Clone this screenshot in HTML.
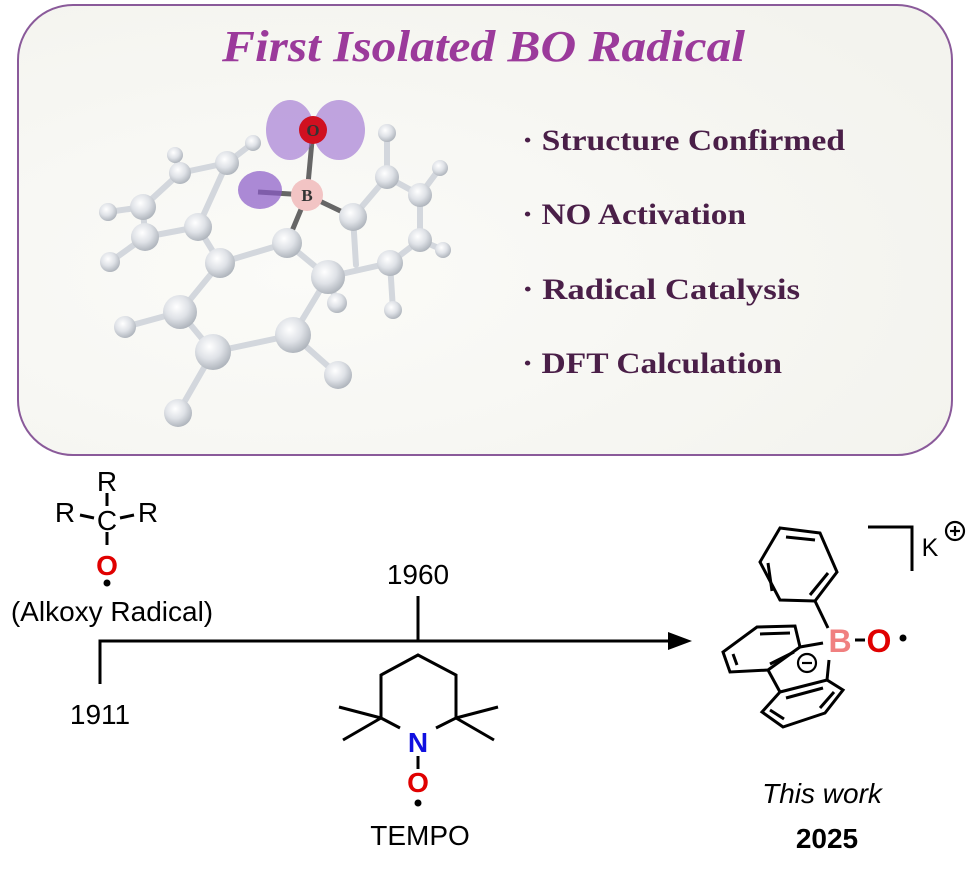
<!DOCTYPE html>
<html><head><meta charset="utf-8"><style>
html,body{margin:0;padding:0;background:#fff;}
svg{display:block;}
</style></head><body>
<svg width="971" height="871" viewBox="0 0 971 871" xmlns="http://www.w3.org/2000/svg">
<defs>
<radialGradient id="atom" cx="0.4" cy="0.35" r="0.7">
<stop offset="0" stop-color="#ffffff"/><stop offset="0.5" stop-color="#dfe2e7"/><stop offset="1" stop-color="#a9afb7"/>
</radialGradient>
<radialGradient id="bg" cx="0.3" cy="0.6" r="0.8">
<stop offset="0" stop-color="#fbfbf8"/><stop offset="1" stop-color="#f3f3ee"/>
</radialGradient>
</defs>
<rect x="18" y="5" width="934" height="450" rx="55" fill="url(#bg)" stroke="#8a5a9a" stroke-width="2"/>
<text x="222" y="61" textLength="523" lengthAdjust="spacingAndGlyphs" font-family="Liberation Serif, serif" font-style="italic" font-weight="bold" font-size="44" fill="#9b3a9b">First Isolated BO Radical</text>
<g font-family="Liberation Serif, serif" font-weight="bold" font-size="30" fill="#4a1f48" lengthAdjust="spacingAndGlyphs">
<text x="522" y="150" textLength="323" lengthAdjust="spacingAndGlyphs">· Structure Confirmed</text>
<text x="522" y="224" textLength="224" lengthAdjust="spacingAndGlyphs">· NO Activation</text>
<text x="522" y="299" textLength="278" lengthAdjust="spacingAndGlyphs">· Radical Catalysis</text>
<text x="522" y="373" textLength="260" lengthAdjust="spacingAndGlyphs">· DFT Calculation</text>
</g>
<!-- molecule bonds -->
<g stroke="#d3d7dd" stroke-width="6" stroke-linecap="round">
<line x1="227" y1="163" x2="180" y2="173"/><line x1="180" y1="173" x2="143" y2="207"/>
<line x1="143" y1="207" x2="145" y2="237"/><line x1="145" y1="237" x2="198" y2="227"/>
<line x1="198" y1="227" x2="227" y2="163"/><line x1="198" y1="227" x2="220" y2="263"/>
<line x1="220" y1="263" x2="287" y2="243"/><line x1="220" y1="263" x2="180" y2="312"/>
<line x1="180" y1="312" x2="213" y2="352"/><line x1="213" y1="352" x2="293" y2="335"/>
<line x1="293" y1="335" x2="328" y2="277"/><line x1="328" y1="277" x2="287" y2="243"/>
<line x1="328" y1="277" x2="390" y2="263"/><line x1="390" y1="263" x2="420" y2="240"/>
<line x1="420" y1="240" x2="420" y2="195"/><line x1="420" y1="195" x2="387" y2="177"/>
<line x1="387" y1="177" x2="353" y2="217"/><line x1="353" y1="217" x2="356" y2="265"/>
<line x1="227" y1="163" x2="253" y2="143"/><line x1="180" y1="173" x2="175" y2="155"/>
<line x1="143" y1="207" x2="108" y2="212"/><line x1="145" y1="237" x2="110" y2="262"/>
<line x1="180" y1="312" x2="125" y2="327"/><line x1="213" y1="352" x2="178" y2="413"/>
<line x1="293" y1="335" x2="338" y2="375"/><line x1="390" y1="263" x2="393" y2="310"/>
<line x1="328" y1="277" x2="337" y2="303"/><line x1="420" y1="240" x2="443" y2="250"/>
<line x1="420" y1="195" x2="440" y2="168"/><line x1="387" y1="177" x2="387" y2="133"/>
</g>
<g stroke="#666" stroke-width="5"><line x1="307" y1="195" x2="313" y2="130"/><line x1="307" y1="195" x2="287" y2="243"/><line x1="307" y1="195" x2="353" y2="217"/><line x1="307" y1="195" x2="258" y2="192"/></g>
<g fill="url(#atom)">
<circle cx="227" cy="163" r="12"/><circle cx="180" cy="173" r="11"/><circle cx="143" cy="207" r="13"/>
<circle cx="145" cy="237" r="14"/><circle cx="198" cy="227" r="14"/><circle cx="220" cy="263" r="15"/>
<circle cx="287" cy="243" r="15"/><circle cx="353" cy="217" r="14"/><circle cx="387" cy="177" r="12"/>
<circle cx="420" cy="195" r="12"/><circle cx="420" cy="240" r="12"/><circle cx="390" cy="263" r="13"/>
<circle cx="328" cy="277" r="17"/><circle cx="180" cy="312" r="17"/><circle cx="213" cy="352" r="18"/>
<circle cx="293" cy="335" r="18"/>
<circle cx="253" cy="143" r="8"/><circle cx="175" cy="155" r="8"/><circle cx="108" cy="212" r="9"/>
<circle cx="110" cy="262" r="10"/><circle cx="125" cy="327" r="11"/><circle cx="178" cy="413" r="14"/>
<circle cx="338" cy="375" r="14"/><circle cx="393" cy="310" r="9"/><circle cx="337" cy="303" r="10"/>
<circle cx="443" cy="250" r="8"/><circle cx="440" cy="168" r="8"/><circle cx="387" cy="133" r="9"/>
</g>
<ellipse cx="290" cy="130" rx="24" ry="30" fill="#9a6ad0" fill-opacity="0.6"/>
<ellipse cx="339" cy="130" rx="26" ry="30" fill="#9a6ad0" fill-opacity="0.6"/>
<ellipse cx="260" cy="190" rx="22" ry="19" fill="#8a5ac8" fill-opacity="0.7"/>
<circle cx="313" cy="130" r="14" fill="#d01020"/>
<circle cx="307" cy="195" r="16" fill="#f2c4c4"/>
<text x="313" y="136" text-anchor="middle" font-family="Liberation Serif, serif" font-weight="bold" font-size="17" fill="#333">O</text>
<text x="307" y="201" text-anchor="middle" font-family="Liberation Serif, serif" font-weight="bold" font-size="17" fill="#333">B</text>

<!-- bottom scheme -->
<g font-family="Liberation Sans, sans-serif" font-size="28" fill="#000">
<text x="107" y="491" text-anchor="middle">R</text>
<text x="65" y="522" text-anchor="middle">R</text>
<text x="107" y="530" text-anchor="middle">C</text>
<text x="148" y="522" text-anchor="middle">R</text>
<text x="107" y="575" text-anchor="middle" fill="#e00000" font-weight="bold">O</text>
<text x="112" y="621" text-anchor="middle">(Alkoxy Radical)</text>
<text x="100" y="724" text-anchor="middle">1911</text>
<text x="418" y="584" text-anchor="middle">1960</text>
<text x="418" y="752" text-anchor="middle" fill="#1010e0" font-weight="bold">N</text>
<text x="418" y="792" text-anchor="middle" fill="#e00000" font-weight="bold">O</text>
<text x="420" y="845" text-anchor="middle">TEMPO</text>
<text x="822" y="803" text-anchor="middle" font-style="italic">This work</text>
<text x="827" y="848" text-anchor="middle" font-weight="bold">2025</text>
<text x="930" y="556" text-anchor="middle" font-size="25">K</text>
<text x="840" y="652" text-anchor="middle" fill="#f08080" font-size="32" font-weight="bold">B</text>
<text x="879" y="652" text-anchor="middle" fill="#e00000" font-size="32" font-weight="bold">O</text>
</g>
<g stroke="#000" stroke-width="3" fill="none" stroke-linecap="butt">
<line x1="107" y1="493" x2="107" y2="506"/><line x1="80" y1="515" x2="94" y2="518"/><line x1="120" y1="518" x2="134" y2="515"/>
<line x1="107" y1="532" x2="107" y2="545"/>
<polyline points="100,684 100,641 676,641"/>
<line x1="418" y1="596" x2="418" y2="641"/>
<polyline points="400,728 381,718 381,675 418,655 456,675 456,718 436,728"/>
<line x1="381" y1="718" x2="339" y2="707"/><line x1="381" y1="718" x2="343" y2="740"/>
<line x1="456" y1="718" x2="498" y2="707"/><line x1="456" y1="718" x2="494" y2="740"/>
<line x1="418" y1="756" x2="418" y2="769"/>
<polyline points="868,527 912,527 912,571"/>
<polygon points="780,528 820,533 837,572 815,601 780,600 760,562"/>
<line x1="786" y1="537" x2="815" y2="540"/><line x1="828" y1="573" x2="810" y2="595"/><line x1="772" y1="591" x2="768" y2="563"/>
<line x1="815" y1="601" x2="828" y2="628"/>
<line x1="855" y1="640" x2="865" y2="640"/>
<polygon points="757,627 795,626 800,647 768,670 730,672 723,652"/>
<line x1="760" y1="634" x2="790" y2="633"/><line x1="733" y1="654" x2="737" y2="665"/><line x1="794" y1="652" x2="770" y2="664"/>
<line x1="800" y1="647" x2="823" y2="643"/>
<line x1="768" y1="670" x2="780" y2="692"/>
<polygon points="780,692 827,680 843,690 825,713 783,727 762,712"/>
<line x1="786" y1="698" x2="823" y2="688"/><line x1="834" y1="692" x2="820" y2="708"/><line x1="770" y1="710" x2="784" y2="719"/>
<line x1="827" y1="680" x2="829" y2="660"/>
</g>
<polygon points="692,641 668,632 668,650" fill="#000"/>
<circle cx="107" cy="583" r="3.5" fill="#000"/>
<circle cx="418" cy="803" r="3.5" fill="#000"/>
<circle cx="903" cy="638" r="3.5" fill="#000"/>
<circle cx="955" cy="531" r="9" fill="none" stroke="#000" stroke-width="2.2"/>
<line x1="950" y1="531" x2="960" y2="531" stroke="#000" stroke-width="2.2"/><line x1="955" y1="526" x2="955" y2="536" stroke="#000" stroke-width="2.2"/>
<circle cx="807" cy="663" r="9" fill="#fff" stroke="#000" stroke-width="2.2"/>
<line x1="802" y1="663" x2="812" y2="663" stroke="#000" stroke-width="2.2"/>
</svg>
</body></html>
